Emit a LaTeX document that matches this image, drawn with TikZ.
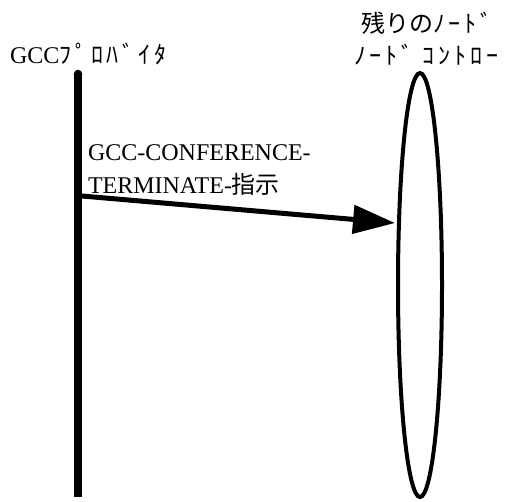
\documentclass[tikz,border=0pt]{standalone}
\usepackage{fontspec}
\setmainfont{Liberation Serif}
\newfontfamily\jp{Noto Sans CJK JP}
\newfontfamily\jph{Noto Sans CJK JP}[LetterSpace=16]
\usetikzlibrary{arrows.meta,shapes.geometric}
\begin{document}
\begin{tikzpicture}[x=1pt,y=-1pt,
  lbl/.style={inner sep=0pt,outer sep=0pt,font=\fontsize{24}{33}\selectfont},
  lifeline/.style={line width=8.5pt},
  msg/.style={line width=5pt,-{Triangle[length=42pt,width=28pt]}},
  ctrlbox/.style={ellipse,draw,line width=4pt,minimum width=44pt,minimum height=424pt,inner sep=0pt}]
\useasboundingbox (0,0) rectangle (505,501);
% lifeline
\coordinate (ltop) at (78,74);
\coordinate (lbot) at (78,497);
\draw[lifeline] (ltop) -- (lbot);
\fill (78,74) circle[radius=4.25pt];
% controller ellipse
\node[ctrlbox] (ctrl) at (420,285) {};
% labels
\node[lbl,anchor=base west] (prov) at (10,63) {GCC{\jph ﾌﾟﾛﾊﾞｲﾀ}};
\node[lbl,anchor=west] (rest1) at (361,23) {{\jp 残りの}{\jph ﾉｰﾄﾞ}};
\node[lbl,anchor=west] (rest2) at (354,55) {\jph ﾉｰﾄﾞ ｺﾝﾄﾛｰ};
\node[lbl,anchor=base west] (m1) at (88,160) {GCC-CONFERENCE-};
\node[lbl,anchor=base west] (m2) at (88,193) {TERMINATE-{\jp 指示}};
% message
\coordinate (mstart) at (82,196);
\coordinate (mtip) at (395,223);
\draw[msg] (mstart) -- (mtip);
\end{tikzpicture}
\end{document}
